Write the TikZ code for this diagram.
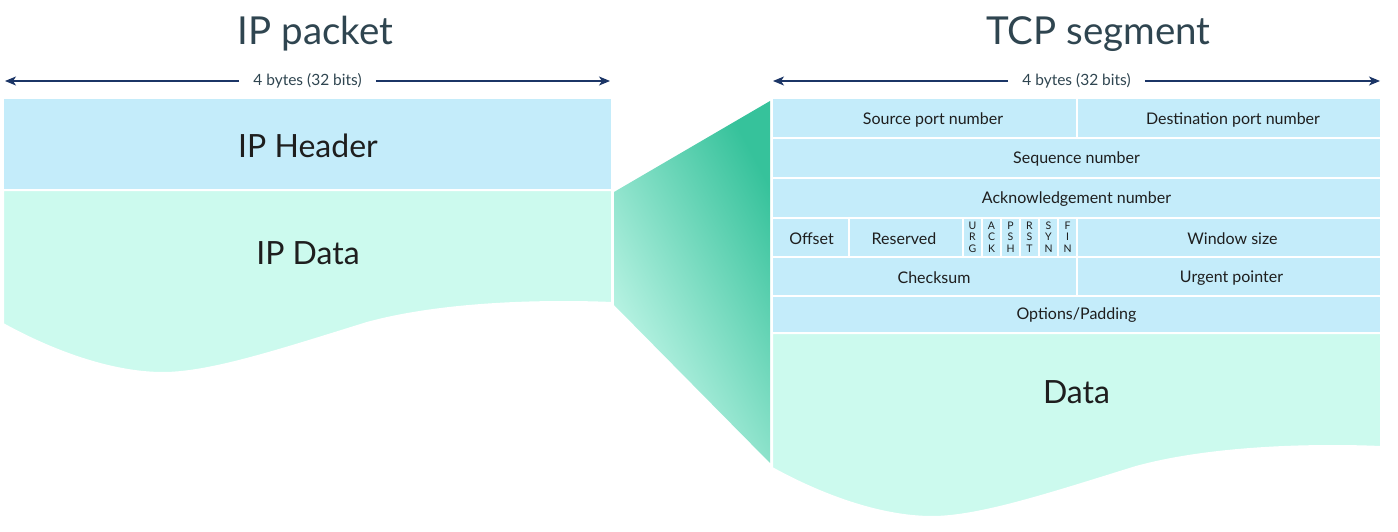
\documentclass[tikz,border=0pt]{standalone}
\usepackage{fontspec}
\setmainfont{Lato}
\usetikzlibrary{arrows.meta,shadings}
\definecolor{hdrblue}{HTML}{C4ECFA}
\definecolor{mintc}{HTML}{CCFAEE}
\definecolor{funnelgreen}{HTML}{36C29B}
\definecolor{titlec}{HTML}{2F4550}
\definecolor{arrowc}{HTML}{1B3566}
\definecolor{txtc}{HTML}{1E1E1E}
\begin{document}
\begin{tikzpicture}[x=1pt,y=-1pt,
  cell/.style={fill=hdrblue,draw=white,line width=2pt},
  datacell/.style={fill=mintc,draw=white,line width=2pt},
  lbl/.style={text=txtc,font=\fontsize{16}{19}\selectfont,inner sep=0pt},
  biglbl/.style={text=txtc,font=\fontsize{32}{38}\selectfont,inner sep=0pt},
  title/.style={text=titlec,font=\fontsize{38.5}{46}\selectfont,inner sep=0pt},
  flag/.style={text=txtc,font=\fontsize{10.5}{11.5}\selectfont,align=center,inner sep=0pt},
  widthlbl/.style={text=titlec,font=\fontsize{15.5}{18}\selectfont,inner xsep=14pt,inner ysep=0pt},
  dimarrow/.style={draw=arrowc,line width=1.3pt,-{Stealth[length=11pt,width=9pt,inset=3pt]}}
]
\useasboundingbox (0,0) rectangle (1398,532);

% ---------- titles ----------
\node[title] (iptitle) at (315.5,34) {IP packet};
\node[title] (tcptitle) at (1098.5,34) {TCP segment};

% ---------- width arrows ----------
\coordinate (ipL) at (5,81);
\coordinate (ipR) at (610,81);
\node[widthlbl] (ipw) at (307.5,81) {4 bytes (32 bits)};
\draw[dimarrow] (ipw.west) -- (ipL);
\draw[dimarrow] (ipw.east) -- (ipR);

\coordinate (tcpL) at (773,81);
\coordinate (tcpR) at (1380,81);
\node[widthlbl] (tcpw) at (1076.5,81) {4 bytes (32 bits)};
\draw[dimarrow] (tcpw.west) -- (tcpL);
\draw[dimarrow] (tcpw.east) -- (tcpR);

% ---------- IP packet ----------
\draw[cell] (3,98) rectangle (612,190);
\draw[datacell] (3,190) -- (612,190) -- (612,303)
  .. controls (540,300) and (440,303) .. (367,323)
  .. controls (280,350) and (210,373) .. (163,373)
  .. controls (110,373) and (50,350) .. (3,324) -- cycle;
\node[biglbl] (iphdr) at (308,146) {IP Header};
\node[biglbl] (ipdata) at (308,253) {IP Data};

% ---------- funnel ----------
\shade[top color=funnelgreen, bottom color=mintc, shading angle=-62]
  (614,192) -- (770,101) -- (770,463) -- (614,305) -- cycle;

% ---------- TCP segment ----------
% row 1
\draw[cell] (772,98) rectangle (1076.5,138);
\draw[cell] (1076.5,98) rectangle (1381,138);
% row 2
\draw[cell] (772,138) rectangle (1381,178);
% row 3
\draw[cell] (772,178) rectangle (1381,218);
% row 4
\draw[cell] (772,218) rectangle (849,257);
\draw[cell] (849,218) rectangle (963,257);
\foreach \xa/\xb in {963/982,982/1001,1001/1020,1020/1039,1039/1058,1058/1077}
  \draw[cell] (\xa,218) rectangle (\xb,257);
\draw[cell] (1077,218) rectangle (1381,257);
% row 5
\draw[cell] (772,257) rectangle (1076.5,296);
\draw[cell] (1076.5,257) rectangle (1381,296);
% row 6
\draw[cell] (772,296) rectangle (1381,333);
% data
\draw[datacell] (772,333) -- (1381,333) -- (1381,447)
  .. controls (1309,444) and (1209,447) .. (1136,467)
  .. controls (1049,494) and (979,517) .. (932,517)
  .. controls (879,517) and (819,494) .. (772,468) -- cycle;

\node[lbl] (src) at (933,119.5) {Source port number};
\node[lbl] (dst) at (1233,119.5) {Destination port number};
\node[lbl] (seq) at (1076.5,158.5) {Sequence number};
\node[lbl] (ack) at (1076.5,199.5) {Acknowledgement number};
\node[lbl] (off) at (811.5,239) {Offset};
\node[lbl] (res) at (904,239) {Reserved};
\node[flag] (fU) at (972.5,237) {U\\R\\G};
\node[flag] (fA) at (991.5,237) {A\\C\\K};
\node[flag] (fP) at (1010.5,237) {P\\S\\H};
\node[flag] (fR) at (1029.5,237) {R\\S\\T};
\node[flag] (fS) at (1048.5,237) {S\\Y\\N};
\node[flag] (fF) at (1067.5,237) {F\\I\\N};
\node[lbl] (win) at (1232.5,239) {Window size};
\node[lbl] (chk) at (934,278) {Checksum};
\node[lbl] (urg) at (1231.5,278) {Urgent pointer};
\node[lbl] (opt) at (1076.5,315) {Options/Padding};
\node[biglbl] (tcpdata) at (1076.5,392) {Data};
\end{tikzpicture}
\end{document}
